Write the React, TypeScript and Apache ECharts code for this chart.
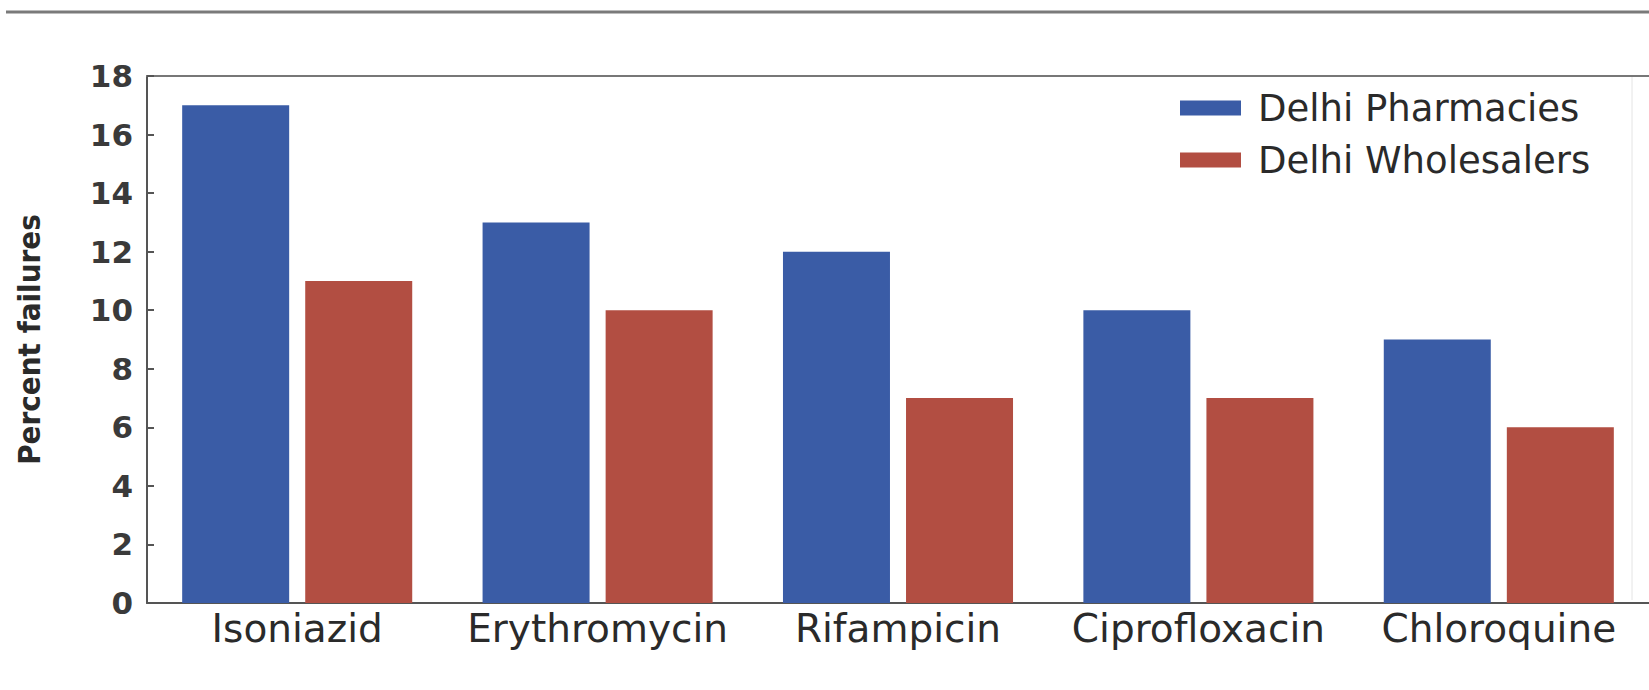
import React, { useEffect, useRef } from "react";
import * as echarts from "echarts";

const categories = ["Isoniazid", "Erythromycin", "Rifampicin", "Ciprofloxacin", "Chloroquine"];
const pharmacies = [17, 13, 12, 10, 9];
const wholesalers = [11, 10, 7, 7, 6];
const seriesNames = ["Delhi Pharmacies", "Delhi Wholesalers"];
const yAxisTitle = "Percent failures";

const BLUE = "#3a5ca6";
const RED = "#b24e42";

export default function App() {
  const ref = useRef<HTMLDivElement>(null);
  useEffect(() => {
    if (!ref.current) return;
    const chart = echarts.init(ref.current, null, { renderer: "svg" });
    chart.setOption({
      animation: false,
      backgroundColor: "#ffffff",
      grid: { left: 147, top: 76, width: 1502, height: 527, containLabel: false },
      legend: {
        orient: "vertical",
        left: 1180,
        top: 88,
        padding: 0,
        itemWidth: 61,
        itemHeight: 15,
        itemGap: 12,
        icon: "rect",
        data: seriesNames,
        textStyle: {
          fontFamily: "DejaVu Sans",
          fontSize: 37,
          color: "#2a2a2a",
          lineHeight: 40,
          padding: [0, 0, 0, 12],
        },
      },
      xAxis: [
        {
          type: "category",
          data: categories,
          position: "bottom",
          axisLine: { show: true, lineStyle: { color: "#555", width: 2 } },
          axisTick: { show: false },
          axisLabel: {
            fontFamily: "DejaVu Sans",
            fontSize: 39,
            color: "#2a2a2a",
            margin: 6,
            interval: 0,
          },
        },
        {
          type: "category",
          data: categories,
          position: "top",
          axisLine: { show: true, lineStyle: { color: "#777", width: 2 } },
          axisTick: { show: false },
          axisLabel: { show: false },
        },
      ],
      yAxis: {
        type: "value",
        min: 0,
        max: 18,
        interval: 2,
        name: yAxisTitle,
        nameLocation: "middle",
        nameGap: 103,
        nameRotate: 90,
        nameTextStyle: {
          fontFamily: "Liberation Sans Narrow, DejaVu Sans Condensed, sans-serif",
          fontWeight: "bold",
          fontSize: 31,
          color: "#2a2a2a",
        },
        axisLine: { show: true, lineStyle: { color: "#555", width: 2 } },
        axisTick: { show: true, inside: true, length: 7, lineStyle: { color: "#555", width: 2 } },
        splitLine: { show: false },
        axisLabel: {
          fontFamily: "DejaVu Sans",
          fontWeight: "bold",
          fontSize: 31,
          color: "#3a3a3a",
          margin: 14,
        },
      },
      graphic: [
        {
          type: "line",
          shape: { x1: 6, y1: 12, x2: 1649, y2: 12 },
          style: { stroke: "#7a7a7a", lineWidth: 3 },
        },
        {
          type: "line",
          shape: { x1: 1632, y1: 76, x2: 1632, y2: 600 },
          style: { stroke: "#e4e4e4", lineWidth: 1 },
        },
      ],
      series: [
        {
          name: seriesNames[0],
          type: "bar",
          data: pharmacies,
          barWidth: 107,
          barGap: "15%",
          itemStyle: { color: BLUE },
        },
        {
          name: seriesNames[1],
          type: "bar",
          data: wholesalers,
          barWidth: 107,
          barGap: "15%",
          itemStyle: { color: RED },
        },
      ],
    });
    return () => chart.dispose();
  }, []);
  return (
    <div
      ref={ref}
      style={{ position: "fixed", left: 0, top: 0, width: 1649, height: 690, background: "#fff" }}
    />
  );
}
